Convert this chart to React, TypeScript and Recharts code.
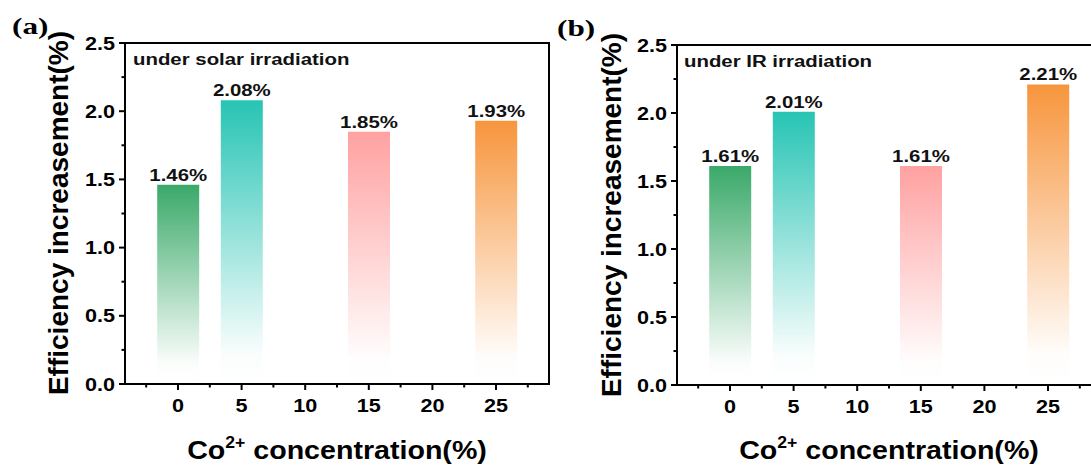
import React from 'react';
import { BarChart, Bar, XAxis, YAxis, Cell, LabelList } from 'recharts';

// ---------- data ----------
const categories = [0, 5, 15, 25];
const solarValues = [1.46, 2.08, 1.85, 1.93];
const irValues = [1.61, 2.01, 1.61, 2.21];
const xTickValues = [-2.5, 0, 2.5, 5, 7.5, 10, 12.5, 15, 17.5, 20, 22.5, 25, 27.5];
const yTickValues = [0, 0.25, 0.5, 0.75, 1, 1.25, 1.5, 1.75, 2, 2.25, 2.5];
const xDomain = [-4.1667, 29.1667];
const yDomain = [0, 2.5];
const panelLetters = ['(a)', '(b)'];
const annotations = ['under solar irradiation', 'under IR irradiation'];
const yTitle = 'Efficiency increasement(%)';
const xTitleMain = 'Co';
const xTitleSup = '2+';
const xTitleRest = ' concentration(%)';

// ---------- styles / layout ----------
const barColors = ['#3aa969', '#27c4b4', '#ffa1a1', '#f7953d'];
const SANS = '"Liberation Sans", Arial, Helvetica, sans-serif';
const SERIF = '"Liberation Serif", "Times New Roman", serif';
const SX = 1.2;
const CHART_W = 560;
const CHART_H = 468;
const Y_AXIS_W = 60;
const X_AXIS_H = 30;
const M_LEFT = 65;
const M_RIGHT = 11;
const panels = [
  { id: 'a', left: 0, top: 43, bottom: 84 },
  { id: 'b', left: 552, top: 45, bottom: 83 },
];

function XTick(props: any) {
  const { x, y, payload } = props;
  const v = Number(payload.value);
  const major = Math.abs(v % 5) < 1e-9;
  return (
    <g>
      <line x1={x} x2={x} y1={y} y2={y + (major ? 6 : 3.5)} stroke="#000" strokeWidth={2} />
      {major && (
        <text
          transform={`translate(${x},${y + 28}) scale(${SX},1)`}
          textAnchor="middle"
          fontFamily={SANS}
          fontWeight="bold"
          fontSize={18}
          fill="#000"
        >
          {String(v)}
        </text>
      )}
    </g>
  );
}

function YTick(props: any) {
  const { x, y, payload } = props;
  const v = Number(payload.value);
  const major = Math.abs(v * 2 - Math.round(v * 2)) < 1e-9;
  return (
    <g>
      <line x1={x} x2={x - (major ? 6 : 3.5)} y1={y} y2={y} stroke="#000" strokeWidth={2} />
      {major && (
        <text
          transform={`translate(${x - 10},${y + 6.5}) scale(${SX},1)`}
          textAnchor="end"
          fontFamily={SANS}
          fontWeight="bold"
          fontSize={18}
          fill="#000"
        >
          {v.toFixed(1)}
        </text>
      )}
    </g>
  );
}

function BarLabel(props: any) {
  const vb = props.viewBox || {};
  const x = props.x != null ? Number(props.x) : Number(vb.x);
  const y = props.y != null ? Number(props.y) : Number(vb.y);
  const w = props.width != null ? Number(props.width) : Number(vb.width);
  const value = Number(props.value);
  if (!isFinite(x) || !isFinite(y)) return null;
  return (
    <text
      transform={`translate(${x + w / 2},${y - 4}) scale(${SX},1)`}
      textAnchor="middle"
      fontFamily={SANS}
      fontWeight="bold"
      fontSize={17}
      fill="#111"
    >
      {value.toFixed(2) + '%'}
    </text>
  );
}

function Panel({ id, values, left, top, bottom }: { id: string; values: number[]; left: number; top: number; bottom: number }) {
  const data = categories.map((c, i) => ({ x: c, v: values[i] }));
  const axisLine = { stroke: '#000', strokeWidth: 2 };
  return (
    <div style={{ position: 'absolute', left, top: 0, width: CHART_W, height: CHART_H }}>
      <BarChart
        width={CHART_W}
        height={CHART_H}
        data={data}
        margin={{ top, right: M_RIGHT, bottom: bottom - X_AXIS_H, left: M_LEFT }}
      >
        <XAxis
          xAxisId="main"
          dataKey="x"
          type="number"
          domain={xDomain}
          ticks={xTickValues}
          interval={0}
          height={X_AXIS_H}
          tickSize={0}
          tickMargin={0}
          tickLine={false}
          axisLine={axisLine}
          tick={(p: any) => <XTick {...p} />}
          allowDataOverflow
        />
        <YAxis
          yAxisId="main"
          type="number"
          domain={yDomain}
          ticks={yTickValues}
          interval={0}
          width={Y_AXIS_W}
          tickSize={0}
          tickMargin={0}
          tickLine={false}
          axisLine={axisLine}
          tick={(p: any) => <YTick {...p} />}
          allowDataOverflow
        />
        <Bar xAxisId="main" yAxisId="main" dataKey="v" barSize={42} isAnimationActive={false}>
          {data.map((d, i) => (
            <Cell key={`c-${i}`} fill={`url(#grad-${id}-${i})`} />
          ))}
          <LabelList dataKey="v" content={(p: any) => <BarLabel {...p} />} />
        </Bar>
      </BarChart>
    </div>
  );
}

function Gradients() {
  return (
    <svg width={0} height={0} style={{ position: 'absolute' }}>
      <defs>
        {['a', 'b'].map((id) =>
          barColors.map((c, i) => (
            <linearGradient key={`${id}-${i}`} id={`grad-${id}-${i}`} x1="0" y1="0" x2="0" y2="1">
              <stop offset="0%" stopColor={c} stopOpacity={1} />
              <stop offset="90%" stopColor={c} stopOpacity={0.02} />
              <stop offset="100%" stopColor={c} stopOpacity={0} />
            </linearGradient>
          ))
        )}
      </defs>
    </svg>
  );
}

function Overlay() {
  const xTitle = (cx: number, key: string) => (
    <text
      key={key}
      transform={`translate(${cx},459) scale(1.1,1)`}
      textAnchor="middle"
      fontFamily={SANS}
      fontWeight="bold"
      fontSize={26}
      fill="#000"
      style={{ whiteSpace: 'pre' }}
    >
      <tspan>{xTitleMain}</tspan>
      <tspan dy={-11} fontSize={16}>{xTitleSup}</tspan>
      <tspan dy={11} fontSize={26}>{xTitleRest}</tspan>
    </text>
  );
  const yT = (bx: number, cy: number, key: string) => (
    <text
      key={key}
      transform={`translate(${bx},${cy}) rotate(-90)`}
      textAnchor="middle"
      fontFamily={SANS}
      fontWeight="bold"
      fontSize={28}
      fill="#000"
    >
      {yTitle}
    </text>
  );
  return (
    <svg width={1091} height={468} style={{ position: 'absolute', left: 0, top: 0, pointerEvents: 'none' }}>
      {panels.map((p) => {
        const l = p.left + M_LEFT + Y_AXIS_W;
        const r = p.left + CHART_W - M_RIGHT;
        const t = p.top;
        const b = CHART_H - p.bottom;
        return (
          <path
            key={`frame-${p.id}`}
            d={`M${l - 1},${t} H${r} V${b + 1}`}
            fill="none"
            stroke="#000000"
            strokeWidth={2}
            shapeRendering="crispEdges"
          />
        );
      })}
      <text transform={`translate(12,34) scale(1.3,1)`} fontFamily={SERIF} fontWeight="bold" fontSize={24} fill="#000">
        {panelLetters[0]}
      </text>
      <text transform={`translate(557,36) scale(1.3,1)`} fontFamily={SERIF} fontWeight="bold" fontSize={24} fill="#000">
        {panelLetters[1]}
      </text>
      {yT(68, 213, 'ya')}
      {yT(621, 215, 'yb')}
      {xTitle(337, 'xa')}
      {xTitle(889, 'xb')}
      <text transform={`translate(133,65) scale(${SX},1)`} fontFamily={SANS} fontWeight="bold" fontSize={17} fill="#111">
        {annotations[0]}
      </text>
      <text transform={`translate(684,67) scale(${SX},1)`} fontFamily={SANS} fontWeight="bold" fontSize={17} fill="#111">
        {annotations[1]}
      </text>
    </svg>
  );
}

export default function App() {
  return (
    <div
      style={{
        position: 'fixed',
        left: 0,
        top: 0,
        width: 1091,
        height: 468,
        overflow: 'hidden',
        background: '#fff',
      }}
    >
      <Gradients />
      <Panel id="a" values={solarValues} left={panels[0].left} top={panels[0].top} bottom={panels[0].bottom} />
      <Panel id="b" values={irValues} left={panels[1].left} top={panels[1].top} bottom={panels[1].bottom} />
      <Overlay />
    </div>
  );
}
